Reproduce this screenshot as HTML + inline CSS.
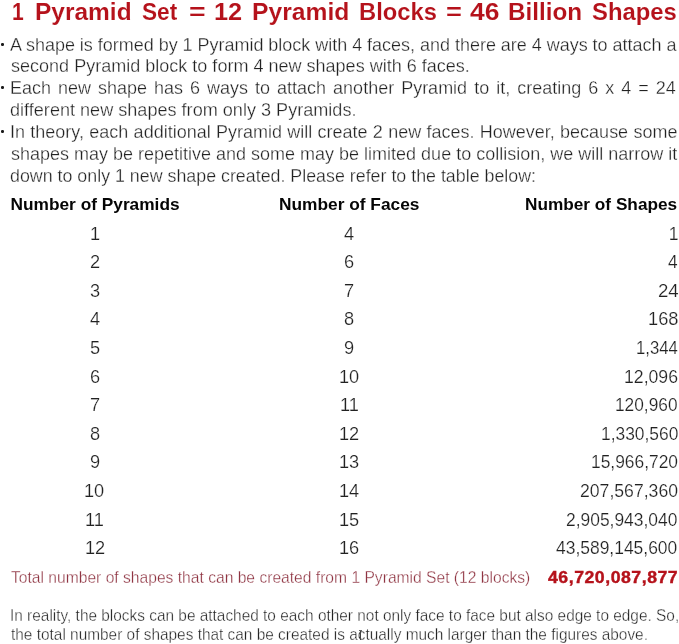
<!DOCTYPE html>
<html><head><meta charset="utf-8"><title>Pyramid</title>
<style>
html,body{margin:0;padding:0;background:#fff}
body{width:679px;height:644px;position:relative;overflow:hidden;font-family:"Liberation Sans",sans-serif}
.t{position:absolute;white-space:pre;line-height:1;transform-origin:0 0;font-family:"Liberation Sans",sans-serif}
</style></head><body><div id="w" style="position:absolute;left:0;top:0;width:679px;height:644px;will-change:transform">
<div class="t" style="left:11.59px;top:-2px;line-height:27px;color:#b5121b;font-size:24.2px;font-weight:700;-webkit-text-stroke:0.1px #fff;transform:scaleX(0.8711);">1</div>
<div class="t" style="left:34.83px;top:-2px;line-height:27px;color:#b5121b;font-size:24.2px;font-weight:700;-webkit-text-stroke:0.1px #fff;transform:scaleX(1.0120);">Pyramid</div>
<div class="t" style="left:142.30px;top:-2px;line-height:27px;color:#b5121b;font-size:24.2px;font-weight:700;-webkit-text-stroke:0.1px #fff;transform:scaleX(0.9370);">Set</div>
<div class="t" style="left:189.22px;top:-2px;line-height:27px;color:#b5121b;font-size:24.2px;font-weight:700;-webkit-text-stroke:0.1px #fff;transform:scaleX(1.1750);">=</div>
<div class="t" style="left:214.33px;top:-2px;line-height:27px;color:#b5121b;font-size:24.2px;font-weight:700;-webkit-text-stroke:0.1px #fff;transform:scaleX(1.0474);">12</div>
<div class="t" style="left:252.42px;top:-2px;line-height:27px;color:#b5121b;font-size:24.2px;font-weight:700;-webkit-text-stroke:0.1px #fff;transform:scaleX(1.0196);">Pyramid</div>
<div class="t" style="left:358.88px;top:-2px;line-height:27px;color:#b5121b;font-size:24.2px;font-weight:700;-webkit-text-stroke:0.1px #fff;transform:scaleX(0.9817);">Blocks</div>
<div class="t" style="left:446.18px;top:-2px;line-height:27px;color:#b5121b;font-size:24.2px;font-weight:700;-webkit-text-stroke:0.1px #fff;transform:scaleX(1.1250);">=</div>
<div class="t" style="left:470.15px;top:-2px;line-height:27px;color:#b5121b;font-size:24.2px;font-weight:700;-webkit-text-stroke:0.1px #fff;transform:scaleX(1.0941);">46</div>
<div class="t" style="left:508.35px;top:-2px;line-height:27px;color:#b5121b;font-size:24.2px;font-weight:700;-webkit-text-stroke:0.1px #fff;transform:scaleX(1.0028);">Billion</div>
<div class="t" style="left:592.36px;top:-2px;line-height:27px;color:#b5121b;font-size:24.2px;font-weight:700;-webkit-text-stroke:0.1px #fff;transform:scaleX(0.9852);">Shapes</div>
<div class="t" style="left:10.14px;top:35px;line-height:20px;color:#222222;font-size:17.5px;font-weight:400;word-spacing:-0.08571119757890402px;-webkit-text-stroke:0.3px #fff;transform:scaleX(1.0280);">A shape is formed by 1 Pyramid block with 4 faces, and there are 4 ways to attach a</div>
<div class="t" style="left:10.63px;top:56px;line-height:20px;color:#222222;font-size:17.5px;font-weight:400;-webkit-text-stroke:0.3px #fff;transform:scaleX(1.0300);">second Pyramid block to form 4 new shapes with 6 faces.</div>
<div class="t" style="left:9.86px;top:78px;line-height:20px;color:#222222;font-size:17.5px;font-weight:400;word-spacing:1.9573701075761056px;-webkit-text-stroke:0.3px #fff;transform:scaleX(1.0280);">Each new shape has 6 ways to attach another Pyramid to it, creating 6 x 4 = 24</div>
<div class="t" style="left:10.12px;top:100px;line-height:20px;color:#222222;font-size:17.5px;font-weight:400;-webkit-text-stroke:0.3px #fff;transform:scaleX(1.0335);">different new shapes from only 3 Pyramids.</div>
<div class="t" style="left:9.90px;top:122px;line-height:20px;color:#222222;font-size:17.5px;font-weight:400;word-spacing:0.30771725032424985px;-webkit-text-stroke:0.3px #fff;transform:scaleX(1.0280);">In theory, each additional Pyramid will create 2 new faces. However, because some</div>
<div class="t" style="left:10.63px;top:144px;line-height:20px;color:#222222;font-size:17.5px;font-weight:400;word-spacing:0.015629053177690366px;-webkit-text-stroke:0.3px #fff;transform:scaleX(1.0280);">shapes may be repetitive and some may be limited due to collision, we will narrow it</div>
<div class="t" style="left:10.14px;top:166px;line-height:20px;color:#222222;font-size:17.5px;font-weight:400;-webkit-text-stroke:0.3px #fff;transform:scaleX(1.0183);">down to only 1 new shape created. Please refer to the table below:</div>
<div class="t" style="left:10.55px;top:194px;line-height:20px;color:#050505;font-size:17.3px;font-weight:700;transform:scaleX(1.0000);">Number of Pyramids</div>
<div class="t" style="left:278.75px;top:194px;line-height:20px;color:#050505;font-size:17.3px;font-weight:700;transform:scaleX(1.0018);">Number of Faces</div>
<div class="t" style="left:525.45px;top:194px;line-height:20px;color:#050505;font-size:17.3px;font-weight:700;transform:scaleX(0.9964);">Number of Shapes</div>
<div class="t" style="left:89.67px;top:224px;line-height:20px;color:#222222;font-size:17.5px;font-weight:400;-webkit-text-stroke:0.2px #fff;transform:scaleX(1.0400);">1</div>
<div class="t" style="left:344.36px;top:224px;line-height:20px;color:#222222;font-size:17.5px;font-weight:400;-webkit-text-stroke:0.2px #fff;transform:scaleX(1.0400);">4</div>
<div class="t" style="left:668.75px;top:224px;line-height:20px;color:#222222;font-size:17.5px;font-weight:400;-webkit-text-stroke:0.2px #fff;transform:scaleX(1.0000);">1</div>
<div class="t" style="left:89.93px;top:252px;line-height:20px;color:#222222;font-size:17.5px;font-weight:400;-webkit-text-stroke:0.2px #fff;transform:scaleX(1.0400);">2</div>
<div class="t" style="left:344.23px;top:252px;line-height:20px;color:#222222;font-size:17.5px;font-weight:400;-webkit-text-stroke:0.2px #fff;transform:scaleX(1.0400);">6</div>
<div class="t" style="left:668.41px;top:252px;line-height:20px;color:#222222;font-size:17.5px;font-weight:400;-webkit-text-stroke:0.2px #fff;transform:scaleX(0.9882);">4</div>
<div class="t" style="left:90.06px;top:281px;line-height:20px;color:#222222;font-size:17.5px;font-weight:400;-webkit-text-stroke:0.2px #fff;transform:scaleX(1.0400);">3</div>
<div class="t" style="left:344.23px;top:281px;line-height:20px;color:#222222;font-size:17.5px;font-weight:400;-webkit-text-stroke:0.2px #fff;transform:scaleX(1.0400);">7</div>
<div class="t" style="left:657.64px;top:281px;line-height:20px;color:#222222;font-size:17.5px;font-weight:400;-webkit-text-stroke:0.2px #fff;transform:scaleX(1.0648);">24</div>
<div class="t" style="left:90.06px;top:309px;line-height:20px;color:#222222;font-size:17.5px;font-weight:400;-webkit-text-stroke:0.2px #fff;transform:scaleX(1.0400);">4</div>
<div class="t" style="left:344.36px;top:309px;line-height:20px;color:#222222;font-size:17.5px;font-weight:400;-webkit-text-stroke:0.2px #fff;transform:scaleX(1.0400);">8</div>
<div class="t" style="left:647.64px;top:309px;line-height:20px;color:#222222;font-size:17.5px;font-weight:400;-webkit-text-stroke:0.2px #fff;transform:scaleX(1.0430);">168</div>
<div class="t" style="left:89.80px;top:338px;line-height:20px;color:#222222;font-size:17.5px;font-weight:400;-webkit-text-stroke:0.2px #fff;transform:scaleX(1.0400);">5</div>
<div class="t" style="left:344.23px;top:338px;line-height:20px;color:#222222;font-size:17.5px;font-weight:400;-webkit-text-stroke:0.2px #fff;transform:scaleX(1.0400);">9</div>
<div class="t" style="left:636.07px;top:338px;line-height:20px;color:#222222;font-size:17.5px;font-weight:400;-webkit-text-stroke:0.2px #fff;transform:scaleX(0.9533);">1,344</div>
<div class="t" style="left:89.93px;top:367px;line-height:20px;color:#222222;font-size:17.5px;font-weight:400;-webkit-text-stroke:0.2px #fff;transform:scaleX(1.0400);">6</div>
<div class="t" style="left:338.77px;top:367px;line-height:20px;color:#222222;font-size:17.5px;font-weight:400;-webkit-text-stroke:0.2px #fff;transform:scaleX(1.0400);">10</div>
<div class="t" style="left:623.89px;top:367px;line-height:20px;color:#222222;font-size:17.5px;font-weight:400;-webkit-text-stroke:0.2px #fff;transform:scaleX(1.0088);">12,096</div>
<div class="t" style="left:89.93px;top:395px;line-height:20px;color:#222222;font-size:17.5px;font-weight:400;-webkit-text-stroke:0.2px #fff;transform:scaleX(1.0400);">7</div>
<div class="t" style="left:339.55px;top:395px;line-height:20px;color:#222222;font-size:17.5px;font-weight:400;-webkit-text-stroke:0.2px #fff;transform:scaleX(1.0400);">11</div>
<div class="t" style="left:615.32px;top:395px;line-height:20px;color:#222222;font-size:17.5px;font-weight:400;-webkit-text-stroke:0.2px #fff;transform:scaleX(0.9885);">120,960</div>
<div class="t" style="left:90.06px;top:424px;line-height:20px;color:#222222;font-size:17.5px;font-weight:400;-webkit-text-stroke:0.2px #fff;transform:scaleX(1.0400);">8</div>
<div class="t" style="left:338.90px;top:424px;line-height:20px;color:#222222;font-size:17.5px;font-weight:400;-webkit-text-stroke:0.2px #fff;transform:scaleX(1.0400);">12</div>
<div class="t" style="left:600.61px;top:424px;line-height:20px;color:#222222;font-size:17.5px;font-weight:400;-webkit-text-stroke:0.2px #fff;transform:scaleX(0.9934);">1,330,560</div>
<div class="t" style="left:89.93px;top:452px;line-height:20px;color:#222222;font-size:17.5px;font-weight:400;-webkit-text-stroke:0.2px #fff;transform:scaleX(1.0400);">9</div>
<div class="t" style="left:338.90px;top:452px;line-height:20px;color:#222222;font-size:17.5px;font-weight:400;-webkit-text-stroke:0.2px #fff;transform:scaleX(1.0400);">13</div>
<div class="t" style="left:590.91px;top:452px;line-height:20px;color:#222222;font-size:17.5px;font-weight:400;-webkit-text-stroke:0.2px #fff;transform:scaleX(0.9935);">15,966,720</div>
<div class="t" style="left:84.47px;top:481px;line-height:20px;color:#222222;font-size:17.5px;font-weight:400;-webkit-text-stroke:0.2px #fff;transform:scaleX(1.0400);">10</div>
<div class="t" style="left:338.77px;top:481px;line-height:20px;color:#222222;font-size:17.5px;font-weight:400;-webkit-text-stroke:0.2px #fff;transform:scaleX(1.0400);">14</div>
<div class="t" style="left:579.89px;top:481px;line-height:20px;color:#222222;font-size:17.5px;font-weight:400;-webkit-text-stroke:0.2px #fff;transform:scaleX(1.0073);">207,567,360</div>
<div class="t" style="left:85.25px;top:510px;line-height:20px;color:#222222;font-size:17.5px;font-weight:400;-webkit-text-stroke:0.2px #fff;transform:scaleX(1.0400);">11</div>
<div class="t" style="left:338.77px;top:510px;line-height:20px;color:#222222;font-size:17.5px;font-weight:400;-webkit-text-stroke:0.2px #fff;transform:scaleX(1.0400);">15</div>
<div class="t" style="left:566.40px;top:510px;line-height:20px;color:#222222;font-size:17.5px;font-weight:400;-webkit-text-stroke:0.2px #fff;transform:scaleX(0.9950);">2,905,943,040</div>
<div class="t" style="left:84.60px;top:538px;line-height:20px;color:#222222;font-size:17.5px;font-weight:400;-webkit-text-stroke:0.2px #fff;transform:scaleX(1.0400);">12</div>
<div class="t" style="left:338.90px;top:538px;line-height:20px;color:#222222;font-size:17.5px;font-weight:400;-webkit-text-stroke:0.2px #fff;transform:scaleX(1.0400);">16</div>
<div class="t" style="left:556.30px;top:538px;line-height:20px;color:#222222;font-size:17.5px;font-weight:400;-webkit-text-stroke:0.2px #fff;transform:scaleX(0.9967);">43,589,145,600</div>
<div class="t" style="left:11.02px;top:568px;line-height:18px;color:#8f3442;font-size:16.2px;font-weight:400;-webkit-text-stroke:0.3px #fff;transform:scaleX(0.9651);">Total number of shapes that can be created from 1 Pyramid Set (12 blocks)</div>
<div class="t" style="left:547.80px;top:568px;line-height:19px;color:#b5121b;font-size:16.9px;font-weight:700;letter-spacing:0.5px;-webkit-text-stroke:0.4px #b5121b;transform:scaleX(1.0467);">46,720,087,877</div>
<div class="t" style="left:10.14px;top:606px;line-height:18px;color:#222222;font-size:16.2px;font-weight:400;-webkit-text-stroke:0.35px #fff;transform:scaleX(0.9513);">In reality, the blocks can be attached to each other not only face to face but also edge to edge. So,</div>
<div class="t" style="left:11.02px;top:625px;line-height:18px;color:#222222;font-size:16.2px;font-weight:400;-webkit-text-stroke:0.35px #fff;transform:scaleX(0.9514);">the total number of shapes that can be created is actually much larger than the figures above.</div>
<div style="position:absolute;left:360px;top:630px;width:1px;height:9.5px;background:#444"></div>
<div style="position:absolute;left:359px;top:629.6px;width:3px;height:1px;background:#666"></div>
<div style="position:absolute;left:0.9px;top:42.9px;width:3.1px;height:3px;border-radius:1.2px;background:#1a1a1a"></div>
<div style="position:absolute;left:0.9px;top:86.4px;width:3.1px;height:3px;border-radius:1.2px;background:#1a1a1a"></div>
<div style="position:absolute;left:0.9px;top:130.2px;width:3.1px;height:3px;border-radius:1.2px;background:#1a1a1a"></div>
</div></body></html>
